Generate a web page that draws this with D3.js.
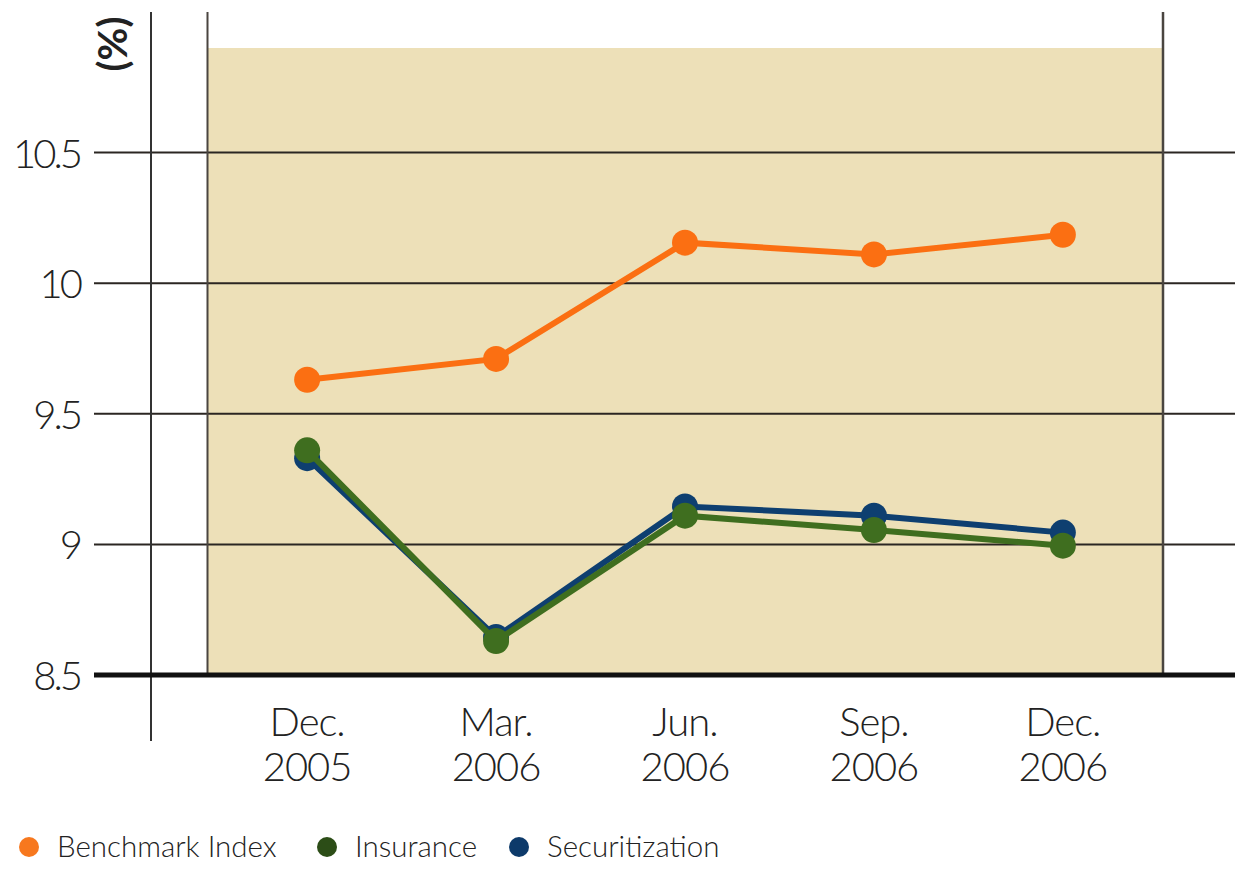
<!DOCTYPE html>
<html>
<head>
<meta charset="utf-8">
<script src="https://cdn.jsdelivr.net/npm/d3@7"></script>
<style>
  body { margin: 0; background: #fff; }
  svg { display: block; }
  text { font-family: Lato, "Open Sans", sans-serif; font-weight: 300; fill: #222; }
</style>
</head>
<body>
<svg width="1251" height="875"></svg>
<script>
const quarters = ['Dec. 2005', 'Mar. 2006', 'Jun. 2006', 'Sep. 2006', 'Dec. 2006'];
const benchmark = [9.63, 9.71, 10.155, 10.11, 10.185];
const insurance = [9.36, 8.63, 9.11, 9.055, 8.995];
const securitization = [9.33, 8.645, 9.145, 9.11, 9.045];
const yTicks = [8.5, 9, 9.5, 10, 10.5];
const seriesNames = ['Benchmark Index', 'Insurance', 'Securitization'];

const svg = d3.select('svg');

const x = d3.scalePoint()
    .domain(quarters)
    .range([207, 1163])
    .padding(0.53);

const y = d3.scaleLinear()
    .domain([8.5, 10.9])
    .range([675, 48]);

// shaded plot area
svg.append('rect')
    .attr('x', 207)
    .attr('y', y(10.9))
    .attr('width', 1163 - 207)
    .attr('height', y(8.5) - y(10.9))
    .style('fill', '#ede0b8');

// gridlines
svg.selectAll('.grid')
    .data(yTicks.filter(d => d > 8.5))
    .enter()
    .append('line')
    .attr('x1', 94)
    .attr('x2', 1235)
    .attr('y1', d => y(d))
    .attr('y2', d => y(d))
    .style('stroke', '#2b2622')
    .style('stroke-width', 2);

// vertical frame lines
svg.append('line')
    .attr('x1', 151).attr('x2', 151)
    .attr('y1', 12).attr('y2', 741)
    .style('stroke', '#333').style('stroke-width', 2);
svg.append('line')
    .attr('x1', 207.5).attr('x2', 207.5)
    .attr('y1', 12).attr('y2', y(8.5))
    .style('stroke', '#4a4540').style('stroke-width', 2);
svg.append('line')
    .attr('x1', 1163).attr('x2', 1163)
    .attr('y1', 12).attr('y2', y(8.5))
    .style('stroke', '#4a4540').style('stroke-width', 2.5);

// baseline
svg.append('line')
    .attr('x1', 94)
    .attr('x2', 1235)
    .attr('y1', y(8.5))
    .attr('y2', y(8.5))
    .style('stroke', '#111')
    .style('stroke-width', 5);

// y tick labels
svg.selectAll('.ylab')
    .data(yTicks)
    .enter()
    .append('text')
    .attr('x', 80)
    .attr('y', d => y(d) + 15)
    .attr('text-anchor', 'end')
    .style('font-size', '40px')
    .style('letter-spacing', '-3px')
    .text(d => d);

// unit label
svg.append('text')
    .attr('transform', 'translate(127,44) rotate(-90)')
    .attr('text-anchor', 'middle')
    .style('font-size', '40px')
    .style('font-weight', 700)
    .text('(%)');

// x labels
quarters.forEach(q => {
    const parts = q.split(' ');
    const t = svg.append('text')
        .attr('x', x(q))
        .attr('y', 736)
        .attr('text-anchor', 'middle')
        .style('font-size', '40px')
        .style('letter-spacing', '-1px');
    t.append('tspan').attr('x', x(q)).text(parts[0]);
    t.append('tspan').attr('x', x(q)).attr('dy', 45).text(parts[1]);
});

// series
const series = [
    { values: benchmark, color: '#fb6f12' },
    { values: securitization, color: '#0e3f70' },
    { values: insurance, color: '#3f6e1f' }
];

const line = d3.line()
    .x((d, i) => x(quarters[i]))
    .y(d => y(d));

series.forEach(s => {
    svg.append('path')
        .datum(s.values)
        .attr('d', line)
        .style('fill', 'none')
        .style('stroke', s.color)
        .style('stroke-width', 6);
    svg.selectAll(null)
        .data(s.values)
        .enter()
        .append('circle')
        .attr('cx', (d, i) => x(quarters[i]))
        .attr('cy', d => y(d))
        .attr('r', 13)
        .style('fill', s.color);
});

// legend
const legendColors = ['#f7781e', '#2c4d17', '#0d3a6a'];
const legendX = [29, 327, 519];
seriesNames.forEach((n, i) => {
    svg.append('circle')
        .attr('cx', legendX[i])
        .attr('cy', 847)
        .attr('r', 10)
        .style('fill', legendColors[i]);
    svg.append('text')
        .attr('x', legendX[i] + 28)
        .attr('y', 857)
        .style('font-size', '29.5px')
        .text(n);
});
</script>
</body>
</html>
